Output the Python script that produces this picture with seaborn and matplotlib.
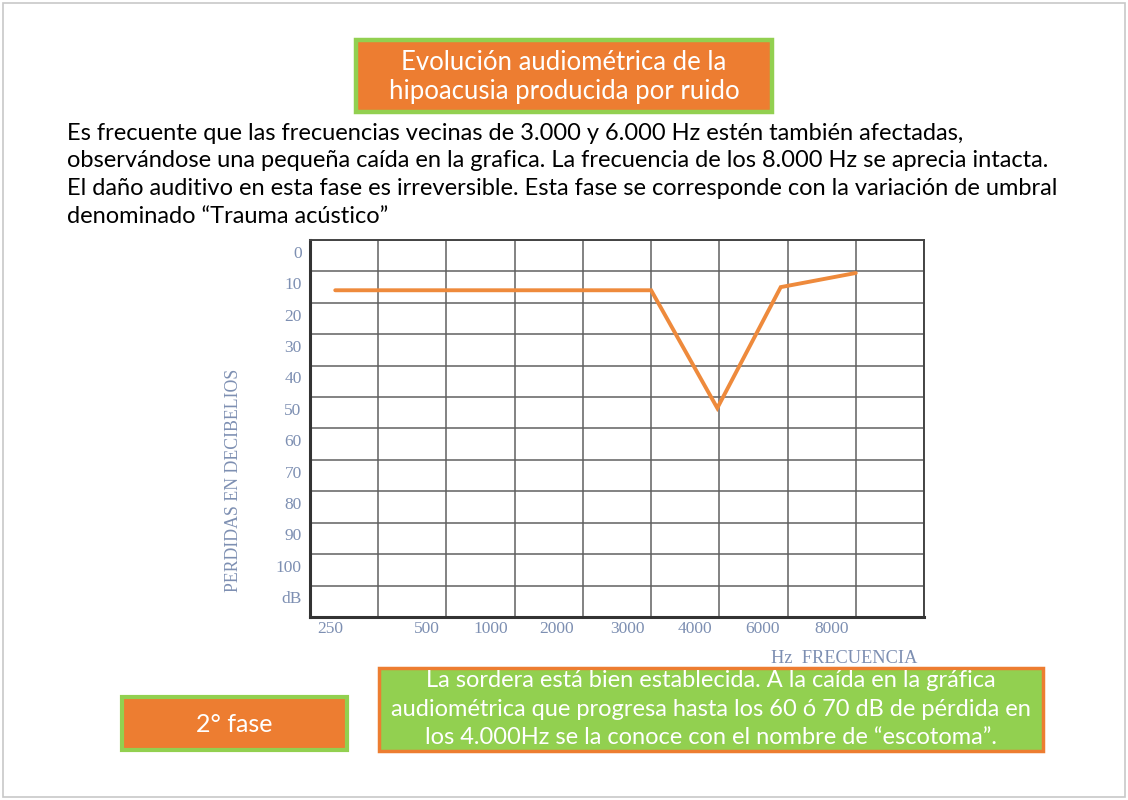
import matplotlib
matplotlib.use("Agg")
import matplotlib.pyplot as plt
import matplotlib.transforms as mtransforms
import seaborn as sns
import pandas as pd
from matplotlib.patches import Rectangle

# ---- data ----
freq_labels = ['250', '500', '1000', '2000', '3000', '4000', '6000', '8000']
freq_label_pos = [0.29, 1.71, 2.65, 3.62, 4.65, 5.64, 6.64, 7.65]
curve_pos = [0.37, 5.0, 5.97, 6.9, 8.0]      # column position of each measured point
curve_loss = [11, 11, 48.5, 10, 5.5]          # dB loss
db_labels = ['0', '10', '20', '30', '40', '50', '60', '70', '80', '90', '100', 'dB']
db_values = [0, 10, 20, 30, 40, 50, 60, 70, 80, 90, 100, 110]

title = "Evolución audiométrica de la\nhipoacusia producida por ruido"
para_lines = [
    "Es frecuente que las frecuencias vecinas de 3.000 y 6.000 Hz estén también afectadas,",
    "observándose una pequeña caída en la grafica. La frecuencia de los 8.000 Hz se aprecia intacta.",
    "El daño auditivo en esta fase es irreversible. Esta fase se corresponde con la variación de umbral",
    "denominado “Trauma acústico”",
]
phase_text = "2° fase"
note_text = ("La sordera está bien establecida. A la caída en la gráfica\n"
             "audiométrica que progresa hasta los 60 ó 70 dB de pérdida en\n"
             "los 4.000Hz se la conoce con el nombre de “escotoma”.")

ORANGE = '#ED7D31'
GREEN = '#92D050'
AXIS_BLUE = '#7d8fb2'

sns.set_style("white")
plt.rcParams['font.family'] = ['Lato', 'DejaVu Sans']

W, H = 1128, 800
fig = plt.figure(figsize=(W / 100, H / 100), dpi=100)


def fx(px):
    return px / W


def fy(py):
    return 1 - py / H


# outer frame
fig.add_artist(Rectangle((fx(3), fy(797)), fx(1122), 794 / H, transform=fig.transFigure,
                         facecolor='none', edgecolor='#c8c8c8', lw=1.2))

# ---- chart ----
ax = fig.add_axes([fx(310), fy(617), fx(614), 377 / H])
df = pd.DataFrame({'pos': curve_pos, 'loss': curve_loss})
sns.lineplot(data=df, x='pos', y='loss', ax=ax, color='#EE8A3C', lw=2.8,
             sort=False, solid_joinstyle='miter')

ax.set_xlim(0, 9)
ax.set_ylim(115, -5)
ax.set_xticks(range(10), minor=True)
ax.set_yticks([v - 5 for v in range(0, 130, 10)], minor=True)
ax.grid(which='minor', color='#606060', lw=1.1)
ax.grid(which='major', visible=False)
ax.set_xticks(freq_label_pos)
ax.set_xticklabels(freq_labels)
ax.set_yticks(db_values)
ax.set_yticklabels(db_labels)
ax.tick_params(which='both', length=0)
ax.tick_params(axis='x', pad=3)
ax.tick_params(axis='y', pad=6)
shift_up = mtransforms.ScaledTranslation(0, 4 / 100, fig.dpi_scale_trans)
for lab in ax.get_xticklabels() + ax.get_yticklabels():
    lab.set_family('Liberation Serif')
    lab.set_fontsize(12.5)
    lab.set_color(AXIS_BLUE)
for lab in ax.get_yticklabels():
    lab.set_transform(lab.get_transform() + shift_up)
ax.set_xlabel('')
ax.set_ylabel('')
for side in ['left', 'bottom']:
    ax.spines[side].set_color('#333333')
    ax.spines[side].set_linewidth(2.2)
for side in ['top', 'right']:
    ax.spines[side].set_color('#444444')
    ax.spines[side].set_linewidth(1.4)

ax.text(-0.124, 0.363, 'PERDIDAS EN DECIBELIOS', transform=ax.transAxes, rotation=90,
        ha='center', va='center', family='Liberation Serif', fontsize=12.8, color=AXIS_BLUE)
ax.text(0.989, -0.109, 'Hz  FRECUENCIA', transform=ax.transAxes, ha='right', va='center',
        family='Liberation Serif', fontsize=13.2, color=AXIS_BLUE)

# ---- title box ----
fig.add_artist(Rectangle((fx(356), fy(112)), fx(416), 72 / H, transform=fig.transFigure,
                         facecolor=ORANGE, edgecolor=GREEN, lw=3.2))
fig.text(fx(564), fy(77), title, ha='center', va='center', color='white',
         fontsize=18.5, linespacing=1.25)

# ---- paragraph ----
for i, line in enumerate(para_lines):
    fig.text(fx(67), fy(133 + i * 27.7), line, ha='left', va='center',
             color='black', fontsize=17)

# ---- bottom boxes ----
fig.add_artist(Rectangle((fx(122), fy(750)), fx(225), 53 / H, transform=fig.transFigure,
                         facecolor=ORANGE, edgecolor=GREEN, lw=3))
fig.text(fx(234), fy(724), phase_text, ha='center', va='center', color='white', fontsize=18)

fig.add_artist(Rectangle((fx(379), fy(751)), fx(664), 83 / H, transform=fig.transFigure,
                         facecolor=GREEN, edgecolor=ORANGE, lw=2.5))
fig.text(fx(711), fy(709), note_text, ha='center', va='center', color='white',
         fontsize=17, linespacing=1.42)

fig.savefig('out.png', dpi=100)
plt.close(fig)
